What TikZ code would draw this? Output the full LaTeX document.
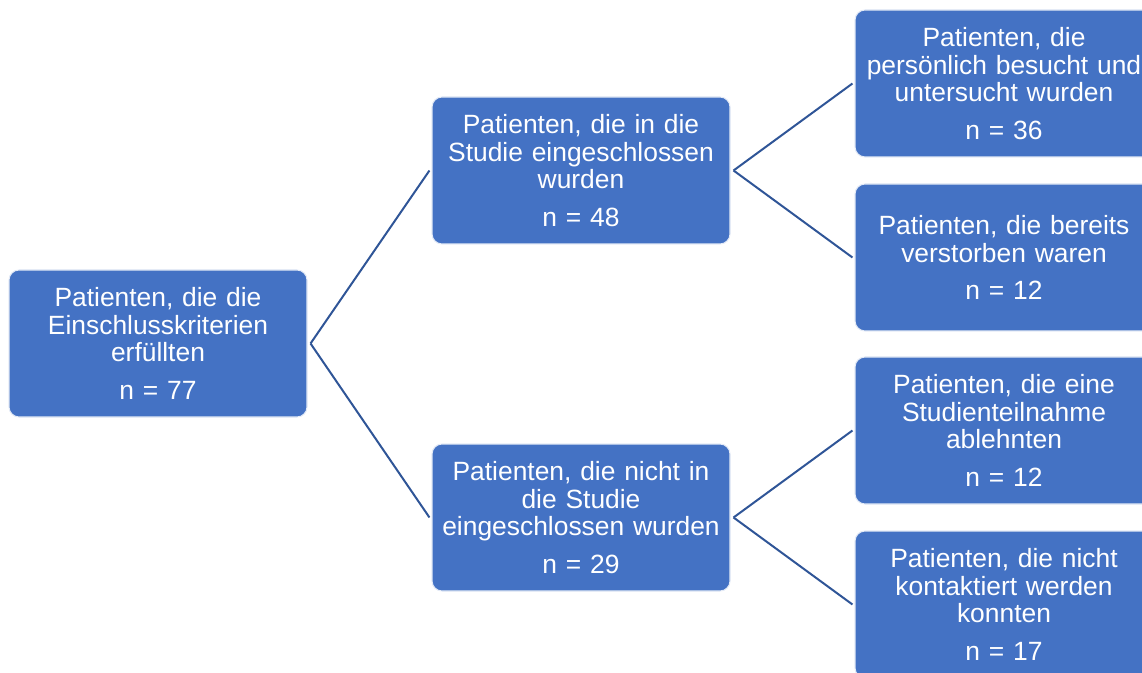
\documentclass[tikz,border=0pt]{standalone}
\usepackage{fontspec}
\setmainfont{Liberation Sans}
\definecolor{boxblue}{HTML}{4472C4}
\definecolor{linkblue}{HTML}{2F5597}
\begin{document}
\begin{tikzpicture}[x=0.75pt,y=-0.75pt,
  box/.style={draw=white!85!boxblue, line width=0.8pt, fill=boxblue, rounded corners=7.5pt,
    minimum width=223.5pt, minimum height=110.25pt, text width=222pt, align=center,
    text=white, inner sep=0pt, font=\fontsize{19.8pt}{20.6pt}\selectfont},
  link/.style={draw=linkblue, line width=1.5pt}]
\useasboundingbox (0,0) rectangle (1142,673);
\node[box] (root) at (158,343.5) {Patienten, die die\\Einschlusskriterien\\erfüllten\\[7.5pt]n = 77};
\node[box] (mt) at (581,170.5) {Patienten, die in die\\Studie eingeschlossen\\wurden\\[7.5pt]n = 48};
\node[box] (mb) at (581,517.5) {Patienten, die nicht in\\die Studie\\eingeschlossen wurden\\[7.5pt]n = 29};
\node[box] (r1) at (1004,83.5) {Patienten, die\\persönlich besucht und\\untersucht wurden\\[7.5pt]n = 36};
\node[box] (r2) at (1004,257.5) {Patienten, die bereits\\verstorben waren\\[7.5pt]n = 12};
\node[box] (r3) at (1004,430.5) {Patienten, die eine\\Studienteilnahme\\ablehnten\\[7.5pt]n = 12};
\node[box] (r4) at (1004,604.5) {Patienten, die nicht\\kontaktiert werden\\konnten\\[7.5pt]n = 17};
\draw[link] ([xshift=2.25pt]root.east) -- ([xshift=-1.5pt]mt.west);
\draw[link] ([xshift=2.25pt]root.east) -- ([xshift=-1.5pt]mb.west);
\draw[link] ([xshift=2.25pt]mt.east) -- ([xshift=-1.5pt]r1.west);
\draw[link] ([xshift=2.25pt]mt.east) -- ([xshift=-1.5pt]r2.west);
\draw[link] ([xshift=2.25pt]mb.east) -- ([xshift=-1.5pt]r3.west);
\draw[link] ([xshift=2.25pt]mb.east) -- ([xshift=-1.5pt]r4.west);
\end{tikzpicture}
\end{document}
